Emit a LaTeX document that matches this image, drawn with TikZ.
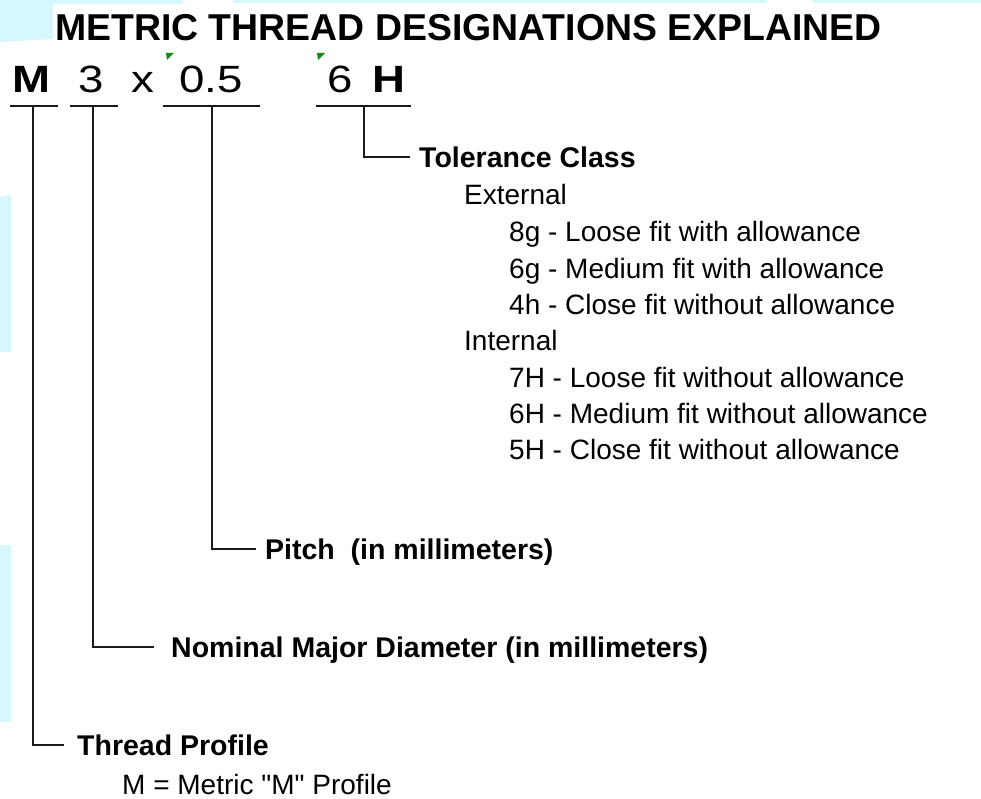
\documentclass[tikz,border=0pt]{standalone}
\usepackage{fontspec}
\setmainfont{Liberation Sans}
\newfontfamily\rawsans{Liberation Sans}
\definecolor{bgcyan}{RGB}{214,247,252}
\definecolor{markgreen}{RGB}{20,140,20}
\definecolor{linegray}{RGB}{25,25,25}
\tikzset{
  titletext/.style={font=\fontsize{37.4}{40}\selectfont\bfseries, inner sep=0pt, anchor=base west},
  codebold/.style={font=\fontsize{38}{40}\selectfont\bfseries, inner sep=0pt, anchor=base west},
  codereg/.style={font=\fontsize{38}{40}\selectfont, inner sep=0pt, anchor=base west},
  lbl/.style={font=\fontsize{28.5}{32}\selectfont\bfseries, inner sep=0pt, anchor=west, text height=20.5pt, text depth=0pt},
  item/.style={font=\fontsize{28}{30}\selectfont, inner sep=0pt, anchor=west, text height=20pt, text depth=0pt},
  conn/.style={draw=linegray, line width=1.6pt},
  bgpatch/.style={fill=bgcyan, draw=none},
  tick/.style={fill=markgreen, draw=none}
}
\begin{document}
\begin{tikzpicture}[x=1pt,y=-1pt]
\useasboundingbox (0,0) rectangle (981,799);
% background patches
\fill[bgpatch] (0,0) -- (53,0) -- (53,39) -- (0,42) -- cycle;
\fill[bgpatch] (0,0) rectangle (183,4);
\fill[bgpatch] (233,0) rectangle (767,3);
\fill[bgpatch] (813,0) rectangle (981,3);
\fill[bgpatch] (0,197) -- (11,195) -- (11,352) -- (0,352) -- cycle;
\fill[bgpatch] (0,545) rectangle (11,722);
% title
\node[titletext] (title) at (55,41) {METRIC THREAD DESIGNATIONS EXPLAINED};
% designation
\node[codebold] (cM) at (12,93) {\scalebox{1.2}[1]{M}};
\node[codereg] (c3) at (78,93) {\scalebox{1.2}[1]{3}};
\node[codereg] (cx) at (131,93) {\scalebox{1.2}[1]{x}};
\node[codereg] (c05) at (179,93) {\scalebox{1.2}[1]{0.5}};
\node[codereg] (c6) at (327,93) {\scalebox{1.2}[1]{6}};
\node[codebold] (cH) at (372,93) {\scalebox{1.2}[1]{H}};
% green marks
\fill[tick] (166,53) -- (174,53) -- (167,60) -- cycle;
\fill[tick] (317,53) -- (325,53) -- (318,60) -- cycle;
% underline coordinates
\coordinate (mL) at (10,106);  \coordinate (mR) at (58,106);  \coordinate (mC) at (33,106);
\coordinate (tL) at (70,106);  \coordinate (tR) at (118,106); \coordinate (tC) at (93,106);
\coordinate (pL) at (163,106); \coordinate (pR) at (260,106); \coordinate (pC) at (212,106);
\coordinate (hL) at (316,106); \coordinate (hR) at (411,106); \coordinate (hC) at (364,106);
\draw[conn] (mL) -- (mR);
\draw[conn] (tL) -- (tR);
\draw[conn] (pL) -- (pR);
\draw[conn] (hL) -- (hR);
% labels
\node[lbl] (tol) at (419,157) {Tolerance Class};
\node[item] (ext) at (464,195) {External};
\node[item] (e8g) at (509,232) {8g - Loose fit with allowance};
\node[item] (e6g) at (509,268) {6g - Medium fit with allowance};
\node[item] (e4h) at (509,304) {4h - Close fit without allowance};
\node[item] (int) at (464,340) {Internal};
\node[item] (i7H) at (509,377) {7H - Loose fit without allowance};
\node[item] (i6H) at (509,413) {6H - Medium fit without allowance};
\node[item] (i5H) at (509,449) {5H - Close fit without allowance};
\node[lbl] (pitch) at (265,549) {Pitch\ \ (in millimeters)};
\node[lbl] (nom) at (171,647) {Nominal Major Diameter (in millimeters)};
\node[lbl] (thr) at (77,745) {Thread Profile};
\node[item] (mprof) at (122,784) {M = Metric {\rawsans "}M{\rawsans "} Profile};
% connectors
\draw[conn] (hC) |- ([xshift=-9pt]tol.west);
\draw[conn] (pC) |- ([xshift=-9pt]pitch.west);
\draw[conn] (tC) |- ([xshift=-17pt]nom.west);
\draw[conn] (mC) |- ([xshift=-13pt]thr.west);
\end{tikzpicture}
\end{document}
